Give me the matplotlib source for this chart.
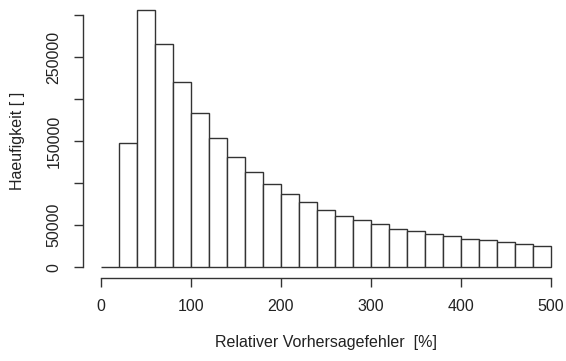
import matplotlib
matplotlib.use("Agg")
import matplotlib.pyplot as plt
import numpy as np

plt.rcParams['font.family'] = ['Liberation Sans', 'DejaVu Sans']

breaks = list(range(0, 520, 20))
counts = [0, 147600, 305600, 265900, 219800, 182900, 153900, 130500, 112700,
          98800, 86700, 77000, 68250, 61500, 55950, 51200, 46000, 42860,
          40100, 36900, 34100, 32140, 29760, 27400, 25800]
xticks = [0, 100, 200, 300, 400, 500]
yticks = [0, 50000, 100000, 150000, 200000, 250000, 300000]
ylabels = ["0", "50000", "", "150000", "", "250000", ""]
xlabel = "Relativer Vorhersagefehler  [%]"
ylabel = "Haeufigkeit [ ]"

W, H = 566, 361
fig = plt.figure(figsize=(W/100, H/100), dpi=100)
ax = fig.add_axes([83/W, 1 - 277.5/H, 486/W, 277.5/H])

lefts = breaks[:-1]
widths = np.diff(breaks)
ax.bar(lefts, counts, width=widths, align='edge', facecolor='white',
       edgecolor='#333333', linewidth=1.0)

xmin, xmax = breaks[0], breaks[-1]
pad = 0.04 * (xmax - xmin)
ax.set_xlim(xmin - pad, xmax + pad)
ymax = max(counts)
ax.set_ylim(-0.04 * ymax, ymax * 1.04)

for s in ['top', 'right']:
    ax.spines[s].set_visible(False)
ax.spines['left'].set_bounds(yticks[0], yticks[-1])
ax.spines['bottom'].set_bounds(xticks[0], xticks[-1])
for s in ['left', 'bottom']:
    ax.spines[s].set_color('#333333')
    ax.spines[s].set_linewidth(1.0)
    ax.spines[s].set_position(('outward', 0))

ax.set_xticks(xticks)
ax.set_xticklabels([str(t) for t in xticks])
ax.set_yticks(yticks)
ax.set_yticklabels(ylabels, rotation=90, va='center')
ax.tick_params(axis='both', length=6.5, width=1.0, color='#333333',
               labelsize=11.5, labelcolor='#222222')
ax.tick_params(axis='x', pad=9)
ax.tick_params(axis='y', pad=9)

fig.text(326/W, 1 - 343/H, xlabel, ha='center', va='center', fontsize=11.5, color='#222222')
fig.text(18/W, 1 - 141/H, ylabel, ha='center', va='center', rotation=90, fontsize=11.5, color='#222222')

fig.savefig("out.png", dpi=100)
